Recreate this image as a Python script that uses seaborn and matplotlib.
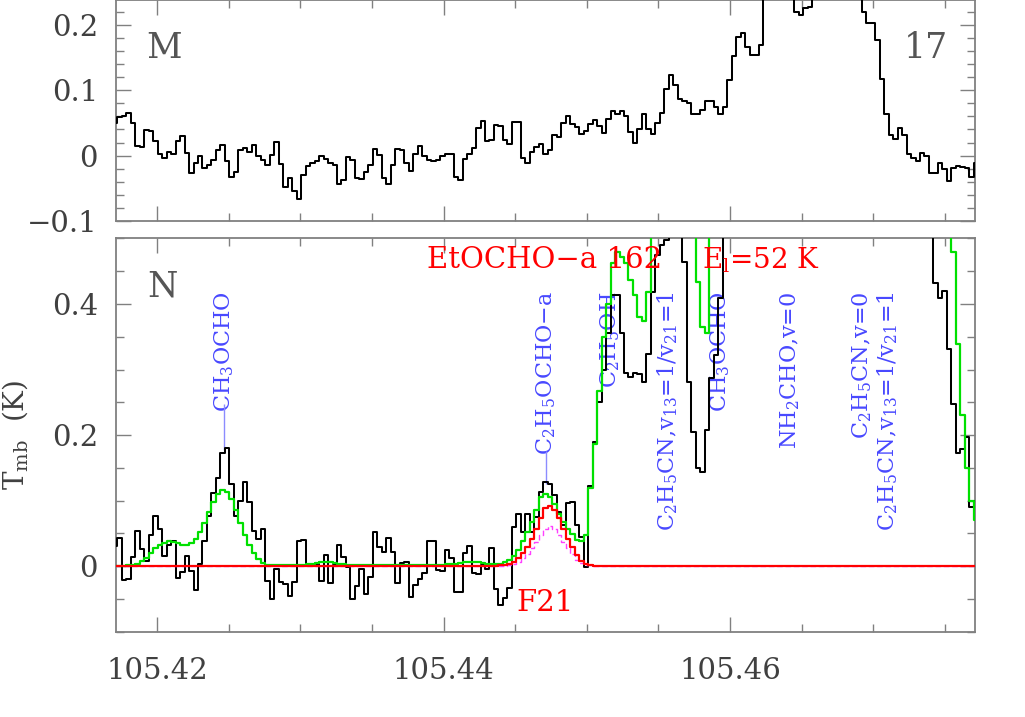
import numpy as np
import matplotlib
matplotlib.use("Agg")
import matplotlib.pyplot as plt
import seaborn as sns
from matplotlib.ticker import MultipleLocator, FuncFormatter

# ---------------- data ----------------
freq_start = 105.41705   # GHz, centre of first channel
chan_width = 0.0003132   # GHz

# panel M (top): observed spectrum
top_obs = [
    0.050, 0.059, 0.061, 0.065, 0.050, 0.015, 0.013, 0.039, 0.037, 0.022,
    0.002, -0.003, 0.005, 0.002, 0.022, 0.030, 0.004, -0.027, -0.011, 0.000,
    -0.019, -0.015, -0.007, 0.009, 0.016, -0.009, -0.032, -0.025, 0.009, 0.011,
    0.005, 0.016, -0.001, -0.007, -0.015, 0.001, 0.021, -0.013, -0.048, -0.035,
    -0.054, -0.067, -0.029, -0.016, -0.012, -0.008, 0.000, -0.005, -0.011, -0.015,
    -0.044, -0.038, -0.002, -0.007, -0.035, -0.036, -0.025, -0.015, 0.010, 0.001,
    -0.035, -0.044, -0.014, 0.010, 0.008, -0.011, -0.024, 0.002, 0.014, 0.000,
    -0.006, -0.009, -0.006, -0.001, 0.003, 0.002, -0.033, -0.038, -0.005, 0.003,
    0.011, 0.042, 0.053, 0.022, 0.024, 0.047, 0.046, 0.024, 0.017, 0.051,
    0.051, -0.004, -0.011, 0.005, 0.013, 0.018, 0.002, 0.008, 0.031, 0.028,
    0.050, 0.061, 0.049, 0.044, 0.033, 0.038, 0.048, 0.054, 0.045, 0.035,
    0.056, 0.068, 0.063, 0.068, 0.061, 0.036, 0.019, 0.040, 0.063, 0.040,
    0.033, 0.050, 0.065, 0.102, 0.123, 0.108, 0.087, 0.084, 0.080, 0.063,
    0.063, 0.070, 0.083, 0.083, 0.075, 0.063, 0.075, 0.116, 0.153, 0.181,
    0.187, 0.166, 0.154, 0.154, 0.169, 0.260, 0.290, 0.300, 0.310, 0.300,
    0.280, 0.250, 0.220, 0.215, 0.225, 0.228, 0.250, 0.270, 0.290, 0.310,
    0.320, 0.330, 0.320, 0.300, 0.280, 0.260, 0.245, 0.220, 0.203, 0.203,
    0.177, 0.117, 0.063, 0.031, 0.025, 0.042, 0.032, 0.003, -0.004, -0.008,
    0.004, -0.001, -0.027, -0.026, -0.011, -0.021, -0.039, -0.019, -0.016, -0.017,
    -0.019, -0.032, -0.012,
]

# panel N (bottom): observed spectrum
bot_obs = [
    0.030, 0.043, -0.021, -0.020, 0.014, 0.053, 0.026, 0.008, 0.047, 0.077,
    0.056, 0.015, 0.033, 0.038, -0.018, -0.009, 0.015, -0.008, -0.036, 0.003,
    0.039, 0.077, 0.111, 0.135, 0.172, 0.181, 0.126, 0.077, 0.100, 0.128,
    0.098, 0.054, 0.042, 0.056, -0.022, -0.050, -0.005, -0.024, -0.027, -0.045,
    -0.024, 0.039, 0.040, 0.004, 0.001, 0.004, -0.023, 0.017, -0.026, 0.001,
    0.033, 0.014, -0.002, -0.050, -0.030, -0.005, -0.042, -0.017, 0.052, 0.029,
    0.021, 0.043, 0.021, -0.026, 0.005, 0.006, -0.047, -0.029, -0.020, -0.010,
    0.039, 0.038, -0.006, -0.007, 0.024, 0.012, -0.040, -0.040, 0.020, 0.030,
    -0.010, -0.012, 0.002, -0.004, 0.028, -0.035, -0.060, -0.048, -0.033, 0.060,
    0.080, 0.052, 0.080, 0.052, 0.075, 0.113, 0.129, 0.126, 0.108, 0.083,
    0.063, 0.096, 0.098, 0.063, 0.045, -0.001, 0.122, 0.189, 0.250, 0.299,
    0.355, 0.413, 0.413, 0.355, 0.294, 0.289, 0.295, 0.293, 0.281, 0.324,
    0.418, 0.475, 0.490, 0.497, 0.530, 0.570, 0.550, 0.464, 0.281, 0.205,
    0.149, 0.144, 0.208, 0.287, 0.322, 0.409, 0.560, 0.620, 0.660, 0.680,
    0.700, 0.720, 0.740, 0.750, 0.760, 0.760, 0.750, 0.740, 0.720, 0.700,
    0.680, 0.660, 0.640, 0.620, 0.610, 0.600, 0.600, 0.610, 0.620, 0.640,
    0.660, 0.680, 0.700, 0.720, 0.740, 0.750, 0.760, 0.760, 0.750, 0.740,
    0.720, 0.700, 0.680, 0.660, 0.640, 0.620, 0.600, 0.580, 0.570, 0.560,
    0.550, 0.540, 0.520, 0.432, 0.409, 0.420, 0.332, 0.248, 0.172, 0.178,
    0.197, 0.090, 0.100,
]

# full model (all species), green
model_all = [
    0.000, 0.000, 0.000, 0.001, 0.002, 0.004, 0.008, 0.013, 0.020, 0.027,
    0.032, 0.036, 0.038, 0.037, 0.035, 0.033, 0.033, 0.036, 0.042, 0.052,
    0.066, 0.082, 0.098, 0.110, 0.116, 0.113, 0.102, 0.085, 0.066, 0.048,
    0.032, 0.020, 0.011, 0.005, 0.002, 0.001, 0.001, 0.001, 0.001, 0.001,
    0.001, 0.001, 0.002, 0.003, 0.004, 0.005, 0.006, 0.006, 0.006, 0.005,
    0.004, 0.003, 0.002, 0.001, 0.001, 0.001, 0.001, 0.001, 0.001, 0.001,
    0.001, 0.001, 0.001, 0.001, 0.001, 0.001, 0.001, 0.001, 0.001, 0.001,
    0.001, 0.001, 0.002, 0.002, 0.003, 0.003, 0.004, 0.005, 0.006, 0.006,
    0.006, 0.006, 0.005, 0.004, 0.003, 0.003, 0.004, 0.006, 0.009, 0.016,
    0.024, 0.039, 0.052, 0.067, 0.085, 0.105, 0.110, 0.106, 0.095, 0.080,
    0.067, 0.057, 0.049, 0.040, 0.038, 0.047, 0.120, 0.187, 0.268, 0.350,
    0.400, 0.462, 0.479, 0.472, 0.462, 0.436, 0.413, 0.380, 0.374, 0.418,
    0.560, 0.620, 0.660, 0.680, 0.680, 0.660, 0.620, 0.580, 0.540, 0.560,
    0.434, 0.365, 0.355, 0.560, 0.650, 0.720, 0.780, 0.820, 0.850, 0.870,
    0.880, 0.890, 0.900, 0.900, 0.890, 0.880, 0.860, 0.840, 0.820, 0.800,
    0.780, 0.760, 0.750, 0.740, 0.740, 0.750, 0.760, 0.780, 0.800, 0.820,
    0.840, 0.860, 0.880, 0.890, 0.900, 0.900, 0.890, 0.880, 0.860, 0.840,
    0.820, 0.800, 0.780, 0.760, 0.740, 0.720, 0.700, 0.680, 0.660, 0.640,
    0.620, 0.600, 0.580, 0.560, 0.540, 0.520, 0.510, 0.479, 0.339, 0.230,
    0.149, 0.100, 0.070,
]

# EtOCHO-a model, red (193 channels)
model_etocho = [
    0, 0, 0, 0, 0, 0, 0, 0, 0, 0,
    0, 0, 0, 0, 0, 0, 0, 0, 0, 0,
    0, 0, 0, 0, 0, 0, 0, 0, 0, 0,
    0, 0, 0, 0, 0, 0, 0, 0, 0, 0,
    0, 0, 0, 0, 0, 0, 0, 0, 0, 0,
    0, 0, 0, 0, 0, 0, 0, 0, 0, 0,
    0, 0, 0, 0, 0, 0, 0, 0, 0, 0,
    0, 0, 0, 0, 0, 0, 0, 0, 0, 0,
    0, 0, 0, 0, 0, 0, 0.001, 0.002, 0.003, 0.007,
    0.012, 0.020, 0.029, 0.042, 0.057, 0.074, 0.088, 0.092, 0.086, 0.073,
    0.057, 0.042, 0.029, 0.017, 0.008, 0.003, 0.001, 0, 0, 0,
    0, 0, 0, 0, 0, 0, 0, 0, 0, 0,
    0, 0, 0, 0, 0, 0, 0, 0, 0, 0,
    0, 0, 0, 0, 0, 0, 0, 0, 0, 0,
    0, 0, 0, 0, 0, 0, 0, 0, 0, 0,
    0, 0, 0, 0, 0, 0, 0, 0, 0, 0,
    0, 0, 0, 0, 0, 0, 0, 0, 0, 0,
    0, 0, 0, 0, 0, 0, 0, 0, 0, 0,
    0, 0, 0, 0, 0, 0, 0, 0, 0, 0,
    0, 0, 0,
]

# second EtOCHO-a model, magenta dashed (193 channels)
model_etocho_alt = [
    0, 0, 0, 0, 0, 0, 0, 0, 0, 0,
    0, 0, 0, 0, 0, 0, 0, 0, 0, 0,
    0, 0, 0, 0, 0, 0, 0, 0, 0, 0,
    0, 0, 0, 0, 0, 0, 0, 0, 0, 0,
    0, 0, 0, 0, 0, 0, 0, 0, 0, 0,
    0, 0, 0, 0, 0, 0, 0, 0, 0, 0,
    0, 0, 0, 0, 0, 0, 0, 0, 0, 0,
    0, 0, 0, 0, 0, 0, 0, 0, 0, 0,
    0, 0, 0, 0, 0, 0, 0, 0, 0.002, 0.004,
    0.007, 0.012, 0.018, 0.027, 0.037, 0.048, 0.057, 0.061, 0.057, 0.048,
    0.037, 0.027, 0.018, 0.010, 0.005, 0.002, 0.001, 0, 0, 0,
    0, 0, 0, 0, 0, 0, 0, 0, 0, 0,
    0, 0, 0, 0, 0, 0, 0, 0, 0, 0,
    0, 0, 0, 0, 0, 0, 0, 0, 0, 0,
    0, 0, 0, 0, 0, 0, 0, 0, 0, 0,
    0, 0, 0, 0, 0, 0, 0, 0, 0, 0,
    0, 0, 0, 0, 0, 0, 0, 0, 0, 0,
    0, 0, 0, 0, 0, 0, 0, 0, 0, 0,
    0, 0, 0, 0, 0, 0, 0, 0, 0, 0,
    0, 0, 0,
]

# line identifications
line_labels = [
    "CH$_3$OCHO", "C$_2$H$_5$OCHO\u2212a", "C$_2$H$_5$OH",
    "C$_2$H$_5$CN,v$_{13}$=1/v$_{21}$=1", "CH$_3$OCHO", "NH$_2$CHO,v=0",
    "C$_2$H$_5$CN,v=0", "C$_2$H$_5$CN,v$_{13}$=1/v$_{21}$=1",
]
line_freqs = [105.424658, 105.447148, 105.451618, 105.455669,
              105.459300, 105.464189, 105.469218, 105.471034]
marker_freqs = [105.424658, 105.447148]
marker_low = [0.177, 0.126]
marker_high = [0.247, 0.175]

x_ticks = [105.42, 105.44, 105.46]

# ---------------- style ----------------
sns.set_theme(style="ticks")
plt.rcParams["font.family"] = ["DejaVu Serif", "DejaVu Sans"]
plt.rcParams["mathtext.fontset"] = "dejavuserif"
plt.rcParams["axes.unicode_minus"] = True

GREY = "#808080"
TXT = "#404040"

fig = plt.figure(figsize=(10.25, 7.17), dpi=100)
ax1 = fig.add_axes([0.1132, 0.6918, 0.8380, 0.3082])
ax2 = fig.add_axes([0.1132, 0.1190, 0.8380, 0.5484])

n_chan = len(top_obs)
freq = freq_start + chan_width * np.arange(n_chan)

common = dict(drawstyle="steps-mid", estimator=None, sort=False, legend=False)

sns.lineplot(x=freq, y=top_obs, ax=ax1, color="black", linewidth=1.45, zorder=3, **common)

sns.lineplot(x=freq, y=bot_obs, ax=ax2, color="black", linewidth=1.45, zorder=3, **common)
sns.lineplot(x=freq, y=model_all, ax=ax2, color="#00e000", linewidth=1.6, zorder=4, **common)
sns.lineplot(x=freq, y=model_etocho_alt, ax=ax2, color="#ff40ff", linewidth=1.0,
             linestyle=(0, (4, 2)), zorder=5, **common)
sns.lineplot(x=freq, y=model_etocho, ax=ax2, color="#ff0000", linewidth=1.6, zorder=6, **common)

# line labels
ax2.vlines(marker_freqs, marker_low, marker_high, color="#8c8cff", linewidth=1.0, zorder=2)
for f, lab in zip(line_freqs, line_labels):
    ax2.text(f, 0.4194, lab, rotation=90, ha="center", va="top", fontsize=16,
             color="#4848ff", zorder=1)

ax2.text(105.43884, 0.467, "EtOCHO\u2212a 162", color="#ff0000", fontsize=21,
         ha="left", va="center", zorder=7)
ax2.text(105.45804, 0.467, "E$_\\mathrm{l}$=52 K", color="#ff0000", fontsize=20,
         ha="left", va="center", zorder=7)
ax2.text(105.44505, -0.057, "F21", color="#ff0000", fontsize=21,
         ha="left", va="center", zorder=7)

ax1.text(0.035, 0.785, "M", transform=ax1.transAxes, fontsize=25, color="#555555",
         ha="left", va="center")
ax1.text(0.9686, 0.785, "17", transform=ax1.transAxes, fontsize=25, color="#555555",
         ha="right", va="center")
ax2.text(0.036, 0.877, "N", transform=ax2.transAxes, fontsize=25, color="#555555",
         ha="left", va="center")

# axes
fmt_y = FuncFormatter(lambda v, p: ("%g" % round(v, 3)).replace("-", "\u2212"))
for ax in (ax1, ax2):
    ax.set_xlim(105.41712, 105.47711)
    ax.xaxis.set_major_locator(MultipleLocator(0.02))
    ax.xaxis.set_minor_locator(MultipleLocator(0.005))
    ax.tick_params(which="both", direction="in", top=True, right=True,
                   color=GREY, width=1.0, labelcolor=TXT, labelsize=21)
    ax.tick_params(which="major", length=11)
    ax.tick_params(which="minor", length=6)
    ax.tick_params(axis="y", pad=13)
    ax.tick_params(axis="x", pad=18)
    for s in ax.spines.values():
        s.set_color(GREY)
        s.set_linewidth(1.3)
    ax.yaxis.set_major_formatter(fmt_y)
    ax.set_xlabel("")
    ax.set_ylabel("")

ax1.set_ylim(-0.1, 0.238)
ax1.yaxis.set_major_locator(MultipleLocator(0.1))
ax1.yaxis.set_minor_locator(MultipleLocator(0.02))
ax1.tick_params(axis="x", labelbottom=False)

ax2.set_ylim(-0.1, 0.5)
ax2.yaxis.set_major_locator(MultipleLocator(0.2))
ax2.yaxis.set_minor_locator(MultipleLocator(0.05))
ax2.set_xticks(x_ticks)
ax2.set_xticklabels(["%.2f" % t for t in x_ticks])
ax2.set_ylabel("T$_\\mathrm{mb}$  (K)", fontsize=20, color=TXT)
ax2.yaxis.set_label_coords(-0.100, 0.5)

fig.savefig("out.png", dpi=100)
